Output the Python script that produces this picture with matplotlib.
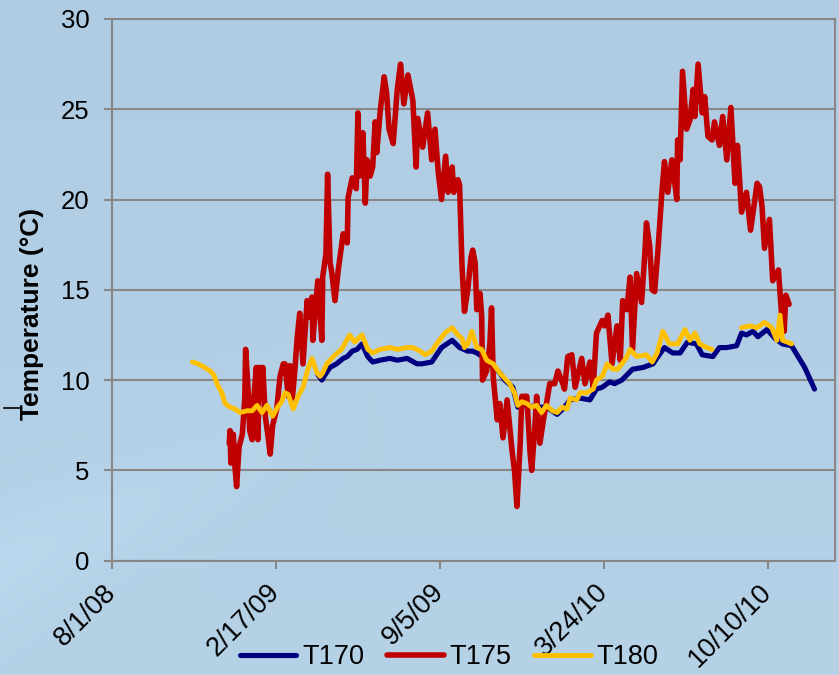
import numpy as np
import pandas as pd
import matplotlib
matplotlib.use("Agg")
import matplotlib.pyplot as plt
from matplotlib.lines import Line2D

plt.rcParams["font.family"] = ["Liberation Sans", "DejaVu Sans"]

# Logger records: day numbers counted from 1 Aug 2008, temperatures in deg C
start_date = "2008-08-01"

t170_day = [251, 256, 260, 266, 274, 282, 287, 293, 299, 305, 312, 318, 327, 339, 348,
            360, 372, 378, 390, 402, 415, 424, 434, 440, 445, 452, 461, 473, 479, 489,
            495, 506, 518, 530, 543, 550, 559, 571, 583, 591, 598, 607, 613, 622, 635,
            648, 660, 666, 674, 684, 693, 702, 713, 720, 733, 741, 750, 762, 768, 774,
            782, 788, 799, 809, 818, 829, 837, 845, 851, 857]
t170_temp = [10.3, 10.0, 10.3, 10.7, 10.9, 11.2, 11.3, 11.6, 11.7, 12.0, 11.3, 11.0, 11.1, 11.2, 11.1,
             11.2, 10.9, 10.9, 11.0, 11.8, 12.2, 11.8, 11.6, 11.6, 11.5, 11.3, 10.9, 10.4, 10.0, 9.6,
             8.5, 8.6, 8.5, 8.5, 8.1, 8.4, 8.9, 9.0, 8.9, 9.5, 9.6, 9.9, 9.8, 10.0, 10.6,
             10.7, 10.9, 11.3, 11.8, 11.5, 11.5, 12.1, 12.0, 11.4, 11.3, 11.8, 11.8, 11.9, 12.6, 12.5,
             12.7, 12.4, 12.8, 12.3, 12.0, 11.9, 11.3, 10.7, 10.1, 9.5]

t175_day = [143, 144, 145, 148, 150, 152, 155, 159, 162, 163,
            166, 168, 171, 173, 176, 178, 180, 183, 184, 187,
            190, 193, 196, 201, 205, 209, 211, 215, 217, 220,
            223, 226, 229, 233, 238, 241, 244, 245, 251, 256,
            257, 261, 263, 266, 268, 272, 276, 282, 287, 288,
            293, 298, 300, 302, 306, 309, 311, 315, 318, 321,
            323, 327, 332, 335, 338, 343, 348, 352, 356, 361,
            367, 371, 373, 379, 385, 390, 394, 398, 402, 407,
            410, 415, 417, 422, 424, 427, 430, 434, 438, 440,
            443, 445, 449, 451, 452, 457, 461, 463, 465, 470,
            473, 477, 482, 488, 491, 494, 498, 500, 506, 510,
            512, 516, 518, 522, 527, 530, 534, 540, 544, 550,
            552, 556, 561, 565, 573, 577, 583, 587, 591, 598,
            601, 605, 610, 616, 620, 623, 628, 632, 635, 640,
            646, 650, 652, 656, 659, 662, 666, 671, 674, 678,
            683, 689, 690, 693, 696, 701, 705, 709, 711, 715,
            720, 723, 727, 732, 735, 741, 745, 750, 755, 760,
            763, 768, 774, 779, 787, 790, 793, 796, 802, 806,
            813, 817, 820, 822, 826]
t175_temp = [6.5, 7.2, 5.4, 7.0, 5.2, 4.1, 6.3, 7.0, 9.0, 11.7,
             9.5, 7.2, 6.7, 9.0, 10.7, 6.7, 10.7, 9.0, 10.7, 8.0,
             7.0, 5.9, 7.5, 8.4, 10.2, 10.9, 10.9, 9.1, 10.8, 9.0,
             10.5, 12.4, 13.7, 10.9, 14.4, 13.5, 14.6, 12.2, 15.5, 12.2,
             15.7, 17.0, 21.4, 16.5, 16.0, 14.4, 16.1, 18.1, 17.6, 20.1,
             21.2, 20.6, 24.8, 21.3, 23.7, 19.8, 22.2, 21.3, 21.8, 24.3,
             22.6, 24.8, 26.8, 25.9, 23.9, 23.1, 26.1, 27.5, 25.3, 26.9,
             25.5, 21.8, 24.5, 22.9, 24.8, 22.2, 23.9, 21.5, 20.0, 22.4,
             20.4, 21.8, 20.4, 21.1, 20.8, 16.3, 13.8, 15.0, 16.8, 17.2,
             16.5, 13.9, 14.8, 13.5, 10.0, 10.5, 12.0, 14.0, 10.2, 7.8,
             8.7, 6.8, 8.9, 6.1, 5.0, 3.0, 6.5, 9.1, 9.1, 6.0,
             5.0, 7.5, 9.1, 6.5, 8.0, 8.7, 9.8, 9.8, 10.5, 9.8,
             9.5, 11.3, 11.4, 9.6, 11.2, 9.8, 11.0, 9.6, 12.6, 13.3,
             13.0, 13.6, 10.9, 13.0, 11.1, 14.4, 13.9, 15.7, 11.7, 15.9,
             14.3, 17.0, 18.7, 17.4, 15.0, 14.9, 17.2, 20.5, 22.1, 20.4,
             22.2, 20.0, 23.3, 22.2, 27.1, 23.9, 24.4, 26.1, 24.6, 27.5,
             24.8, 25.7, 23.5, 23.3, 24.3, 23.0, 24.6, 22.2, 25.1, 20.9,
             23.0, 19.3, 20.4, 18.3, 20.9, 20.7, 19.6, 17.3, 18.9, 15.5,
             16.1, 13.5, 12.7, 14.7, 14.2]

t180_day = [98, 105, 113, 120, 124, 129, 134, 138, 144, 150, 156, 165, 171, 177, 183,
            189, 196, 202, 207, 211, 215, 221, 227, 233, 239, 244, 250, 254, 257, 262,
            270, 280, 290, 296, 305, 312, 318, 327, 339, 348, 360, 367, 376, 382, 390,
            396, 406, 415, 422, 427, 430, 434, 439, 445, 451, 457, 465, 473, 479, 485,
            491, 495, 500, 506, 512, 518, 524, 530, 537, 543, 549, 555, 559, 567, 571,
            579, 587, 591, 598, 604, 611, 617, 622, 627, 632, 640, 652, 659, 665, 672,
            680, 690, 699, 705, 711, 717, 726, 732, 750, 768, 778, 787, 796, 805, 811,
            815, 818, 824, 829]
t180_temp = [11.0, 10.9, 10.7, 10.5, 10.3, 9.7, 9.3, 8.7, 8.5, 8.4, 8.2, 8.3, 8.3, 8.6, 8.2,
             8.6, 8.0, 8.5, 8.8, 9.3, 9.2, 8.4, 9.1, 9.6, 10.6, 11.2, 10.4, 10.2, 10.4, 10.9,
             11.3, 11.7, 12.5, 12.1, 12.5, 11.7, 11.5, 11.7, 11.8, 11.7, 11.8, 11.8, 11.6, 11.4, 11.6,
             12.0, 12.6, 12.9, 12.5, 12.3, 11.8, 12.0, 12.7, 11.8, 11.7, 11.1, 10.9, 10.4, 10.1, 9.8,
             9.3, 8.6, 8.8, 8.7, 8.5, 8.6, 8.2, 8.6, 8.3, 8.2, 8.5, 8.4, 9.0, 8.9, 9.3,
             9.3, 9.5, 10.0, 10.2, 10.9, 10.6, 10.6, 10.9, 11.2, 11.7, 11.3, 11.4, 11.0, 11.5, 12.7,
             12.0, 12.0, 12.8, 12.2, 12.6, 12.0, 11.8, 11.7, np.nan, 12.9, 13.0, 12.9, 13.2, 12.9, 12.2,
             13.6, 12.2, 12.1, 12.0]

series_names = ["T170", "T175", "T180"]
series_colors = ["#000080", "#C00000", "#FFC000"]
tick_labels = ["8/1/08", "2/17/09", "9/5/09", "3/24/10", "10/10/10"]
x_end = "2010-12-31"

W, H = 839, 675
fig = plt.figure(figsize=(W / 100, H / 100), dpi=100)

# soft sky-blue backdrop
yy, xx = np.mgrid[0:1:200j, 0:1:240j]
top = np.array([0.690, 0.800, 0.890])
bot = np.array([0.712, 0.822, 0.905])
img = top[None, None, :] * (1 - yy[..., None]) + bot[None, None, :] * yy[..., None]
band = np.exp(-((yy - 0.70 - 0.55 * (0.25 - xx)) ** 2) / 0.008) * np.clip(1.0 - xx * 2.0, 0, 1)
img = img + 0.025 * band[..., None]
img = np.clip(img, 0, 1)
bg = fig.add_axes([0, 0, 1, 1], zorder=-10)
bg.imshow(img, aspect="auto", extent=[0, 1, 0, 1], interpolation="bicubic")
bg.axis("off")

left, right, top_px, bottom_px = 112, 835, 19, 560.6
ax = fig.add_axes([left / W, 1 - bottom_px / H, (right - left) / W, (bottom_px - top_px) / H])
ax.patch.set_alpha(0)

base = pd.Timestamp(start_date)
def to_dates(days):
    return base + pd.to_timedelta(np.asarray(days), unit="D")

data = [(t170_day, t170_temp), (t175_day, t175_temp), (t180_day, t180_temp)]
widths = [3.7, 4.0, 3.5]
handles = []
for (d, v), name, col, lw in zip(data, series_names, series_colors, widths):
    ln, = ax.plot(to_dates(d), v, color=col, lw=lw, label=name,
                  solid_joinstyle="round", solid_capstyle="round")
    handles.append(ln)

grid_col = "#878787"
ax.set_ylim(0, 30)
ax.set_yticks(np.arange(0, 31, 5))
ax.yaxis.grid(True, color=grid_col, lw=1.5)
ax.set_axisbelow(True)
for s in ax.spines.values():
    s.set_color(grid_col)
    s.set_linewidth(1.5)

tick_dates = pd.to_datetime(tick_labels, format="%m/%d/%y")
ax.set_xlim(base, pd.Timestamp(x_end))
ax.set_xticks(tick_dates)
ax.set_xticklabels(tick_labels, rotation=45, ha="right", va="center",
                   rotation_mode="anchor")
ax.tick_params(axis="both", direction="out", length=6, width=1.5, color=grid_col,
               labelcolor="black")
ax.tick_params(axis="y", pad=10, labelsize=18.5)
ax.tick_params(axis="x", pad=14, labelsize=19.5)

fig.text(32 / W, 1 - 314 / H, "Temperature (°C)", rotation=90, ha="center", va="center",
         fontsize=19, fontweight="bold")

fig.legend(handles=handles, loc="center", bbox_to_anchor=(449 / W, 1 - 657 / H), ncol=3,
           frameon=False, fontsize=19.5, handlelength=2.1, handletextpad=0.2,
           columnspacing=0.85, borderaxespad=0)

fig.add_artist(Line2D([4 / W, 20 / W], [1 - 408 / H, 1 - 408 / H], color="black", lw=1.2))

fig.savefig("out.png", dpi=100)
